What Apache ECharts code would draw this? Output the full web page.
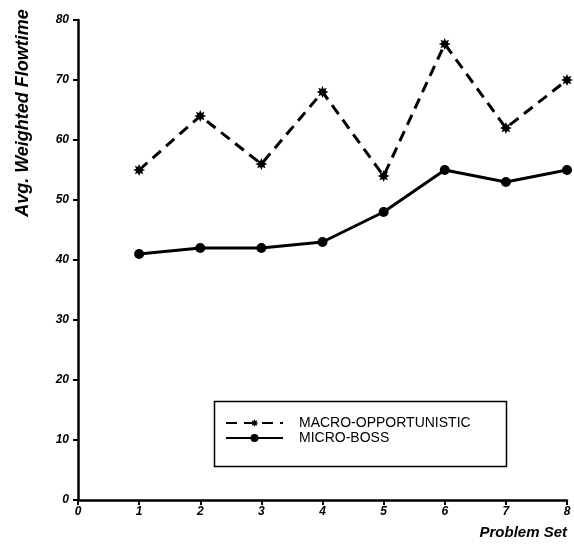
<!DOCTYPE html>
<html>
<head>
<meta charset="utf-8">
<script src="https://cdn.jsdelivr.net/npm/echarts@6/dist/echarts.min.js"></script>
<style>
html,body{margin:0;padding:0;background:#fff;}
#chart{width:574px;height:546px;}
</style>
</head>
<body>
<div id="chart"></div>
<script>
var problemSets = [1, 2, 3, 4, 5, 6, 7, 8];
var macroOpportunistic = [55, 64, 56, 68, 54, 76, 62, 70];
var microBoss = [41, 42, 42, 43, 48, 55, 53, 55];
var seriesNames = ['MACRO-OPPORTUNISTIC', 'MICRO-BOSS'];
var xTitle = 'Problem Set';
var yTitle = 'Avg. Weighted Flowtime';

function pairs(xs, ys) { return xs.map(function (x, i) { return [x, ys[i]]; }); }

// asterisk-like starburst symbol shape
function starPath() {
  var pts = [];
  for (var i = 0; i < 16; i++) {
    var r = (i % 2 === 0) ? 10 : 5.5;
    var a = Math.PI / 2 + i * Math.PI / 8;
    pts.push((10 + r * Math.cos(a)).toFixed(2) + ',' + (10 - r * Math.sin(a)).toFixed(2));
  }
  return 'path://M' + pts.join('L') + 'Z';
}
var starSymbol = starPath();

var font = '"Liberation Sans", Arial, Helvetica, sans-serif';
var chart = echarts.init(document.getElementById('chart'));
chart.setOption({
  backgroundColor: '#fff',
  animation: false,
  grid: { left: 78, right: 7, top: 20, bottom: 46, containLabel: false },
  xAxis: {
    type: 'value', min: 0, max: 8, interval: 1,
    name: xTitle, nameLocation: 'end', nameGap: 0,
    nameTextStyle: { fontFamily: font, fontWeight: 'bold', fontStyle: 'italic', fontSize: 15, color: '#000', align: 'right', verticalAlign: 'top', padding: [25, 0, 0, 0] },
    axisLine: { lineStyle: { color: '#000', width: 2.5 } },
    axisTick: { show: true, length: 5, lineStyle: { color: '#000', width: 2 } },
    axisLabel: { margin: 6, fontFamily: font, fontWeight: 'bold', fontStyle: 'italic', fontSize: 12, color: '#000' },
    splitLine: { show: false }
  },
  yAxis: {
    type: 'value', min: 0, max: 80, interval: 10,
    name: yTitle, nameLocation: 'middle', nameGap: 46, nameRotate: 90,
    nameTextStyle: { fontFamily: font, fontWeight: 'bold', fontStyle: 'italic', fontSize: 18, color: '#000', padding: [0, 0, 0, 294] },
    axisLine: { show: true, lineStyle: { color: '#000', width: 2.5 } },
    axisTick: { show: true, length: 5, lineStyle: { color: '#000', width: 2 } },
    axisLabel: { margin: 9, fontFamily: font, fontWeight: 'bold', fontStyle: 'italic', fontSize: 12, color: '#000' },
    splitLine: { show: false }
  },
  legend: {
    orient: 'vertical', left: 225, top: 416, padding: 0, itemGap: 1,
    itemWidth: 57, itemHeight: 10,
    data: seriesNames,
    textStyle: { fontFamily: font, fontSize: 14, color: '#000', padding: [0, 0, 0, 11] }
  },
  graphic: [{
    type: 'rect', left: 212, top: 399, z: 0,
    shape: { width: 292, height: 65 },
    style: { fill: 'none', stroke: '#000', lineWidth: 1.5 }
  }],
  series: [
    {
      name: seriesNames[0], type: 'line', data: pairs(problemSets, macroOpportunistic),
      symbol: starSymbol, symbolSize: 12,
      lineStyle: { color: '#000', width: 3, type: [11, 7] },
      itemStyle: { color: '#000', borderWidth: 0 }
    },
    {
      name: seriesNames[1], type: 'line', data: pairs(problemSets, microBoss),
      symbol: 'circle', symbolSize: 10,
      lineStyle: { color: '#000', width: 3 },
      itemStyle: { color: '#000', borderWidth: 0 }
    }
  ]
});
</script>
</body>
</html>
